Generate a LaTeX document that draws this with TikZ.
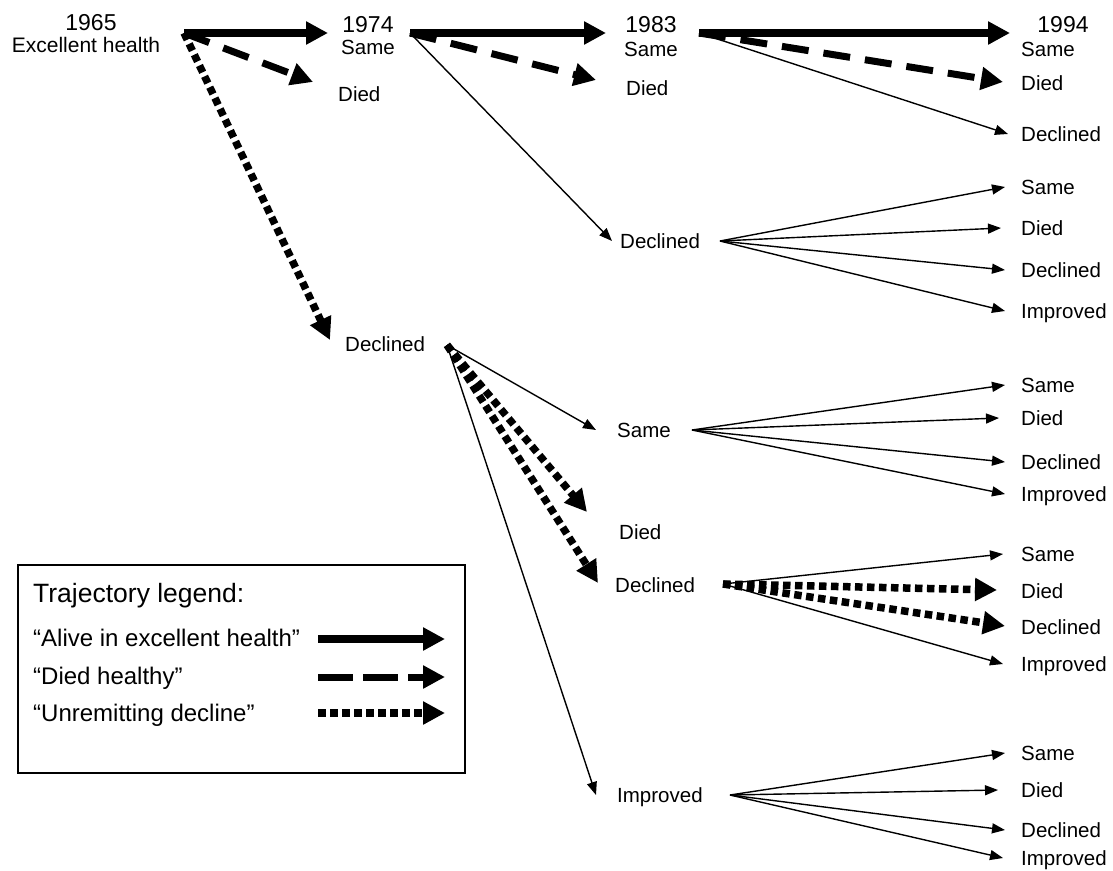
\documentclass[tikz,border=0pt]{standalone}
\usepackage{fontspec}
\setmainfont{Liberation Sans}
\usetikzlibrary{arrows.meta}

\tikzset{
  lab/.style={font=\fontsize{20.5}{24}\selectfont,inner sep=0pt,text height=14.7pt,text depth=0pt,anchor=west},
  yr/.style={font=\fontsize{23}{27}\selectfont,inner sep=0pt,text height=16.5pt,text depth=0pt},
  leg/.style={font=\fontsize{24}{28}\selectfont,inner sep=0pt,anchor=base west},
  alive/.style={line width=8pt,-{Triangle[length=22pt,width=22pt]}},
  diedh/.style={line width=7pt,dash pattern=on 27pt off 15pt,-{Triangle[length=22pt,width=22pt]}},
  decl/.style={line width=7.5pt,dash pattern=on 7.5pt off 4.5pt,-{Triangle[length=22pt,width=22pt]}},
  thinarr/.style={line width=1.4pt,-{Triangle[length=13pt,width=10pt]}}
}

\begin{document}
\begin{tikzpicture}[x=1pt,y=-1pt]
\useasboundingbox (0,0) rectangle (1113,870);

% labels, column by column
\node[yr] (y65) at (91,22) {1965};
\node[font=\fontsize{21}{25}\selectfont,inner sep=0pt,text height=15pt,text depth=0pt] (c1) at (86,45) {Excellent health};

\node[yr] (y74) at (368,24) {1974};
\node[lab] (c2s) at (341,47) {Same};
\node[lab] (c2d) at (338,94) {Died};
\node[lab] (c2c) at (345,344) {Declined};

\node[yr] (y83) at (651,24) {1983};
\node[lab] (c3s) at (624,49) {Same};
\node[lab] (c3d) at (626,88) {Died};
\node[lab] (c3c) at (620,241) {Declined};
\node[lab] (c3s2) at (617,430) {Same};
\node[lab] (c3d2) at (619,532) {Died};
\node[lab] (c3c2) at (615,585) {Declined};
\node[lab] (c3i) at (617,795) {Improved};

\node[yr] (y94) at (1063,24) {1994};
\node[lab] (r1s) at (1021,49) {Same};
\node[lab] (r1d) at (1021,83) {Died};
\node[lab] (r1c) at (1021,134) {Declined};
\node[lab] (r2s) at (1021,187) {Same};
\node[lab] (r2d) at (1021,228) {Died};
\node[lab] (r2c) at (1021,270) {Declined};
\node[lab] (r2i) at (1021,311) {Improved};
\node[lab] (r3s) at (1021,385) {Same};
\node[lab] (r3d) at (1021,418) {Died};
\node[lab] (r3c) at (1021,462) {Declined};
\node[lab] (r3i) at (1021,494) {Improved};
\node[lab] (r4s) at (1021,554) {Same};
\node[lab] (r4d) at (1021,591) {Died};
\node[lab] (r4c) at (1021,627) {Declined};
\node[lab] (r4i) at (1021,664) {Improved};
\node[lab] (r5s) at (1021,753) {Same};
\node[lab] (r5d) at (1021,790) {Died};
\node[lab] (r5c) at (1021,830) {Declined};
\node[lab] (r5i) at (1021,858) {Improved};

% branch points
\coordinate (h65) at (184,33);
\coordinate (h74s) at (410,33);
\coordinate (h74c) at (447,345);
\coordinate (h83s) at (699,33);
\coordinate (h83c) at (720,241);
\coordinate (h83s2) at (692,430);
\coordinate (h83c2) at (723,584);
\coordinate (h83i) at (730,795);

% tips of the thick arrows
\coordinate (a74) at (328,33);
\coordinate (d74) at (313,82);
\coordinate (u74) at (330,340);
\coordinate (a83) at (606,33);
\coordinate (d83) at (596,80);
\coordinate (u83d) at (587,512);
\coordinate (u83c) at (598,583);
\coordinate (a94) at (1010,33);
\coordinate (d94) at (1003,82);
\coordinate (u94d) at (997,590);
\coordinate (u94c) at (1005,626);

% 1965 -> 1974
\draw[alive] (h65) -- (a74);
\draw[diedh] (h65) -- (d74);
\draw[decl] (h65) -- (u74);

% 1974 -> 1983
\draw[alive] (h74s) -- (a83);
\draw[diedh] (h74s) -- (d83);
\draw[thinarr] (h74s) -- ([xshift=-8pt]c3c.west);
\draw[thinarr] (h74c) -- ([xshift=-21pt]c3s2.west);
\draw[decl] (h74c) -- (u83d);
\draw[decl] (h74c) -- (u83c);
\draw[thinarr] (h74c) -- ([xshift=-21pt]c3i.west);

% 1983 -> 1994
\draw[alive] (h83s) -- (a94);
\draw[diedh] (h83s) -- (d94);
\draw[thinarr] (h83s) -- ([xshift=-13pt]r1c.west);

\draw[thinarr] (h83c) -- ([xshift=-16pt]r2s.west);
\draw[thinarr] (h83c) -- ([xshift=-20pt]r2d.west);
\draw[thinarr] (h83c) -- ([xshift=-16pt]r2c.west);
\draw[thinarr] (h83c) -- ([xshift=-16pt]r2i.west);

\draw[thinarr] (h83s2) -- ([xshift=-16pt]r3s.west);
\draw[thinarr] (h83s2) -- ([xshift=-22pt]r3d.west);
\draw[thinarr] (h83s2) -- ([xshift=-16pt]r3c.west);
\draw[thinarr] (h83s2) -- ([xshift=-16pt]r3i.west);

\draw[thinarr] (h83c2) -- ([xshift=-18pt]r4s.west);
\draw[decl] (h83c2) -- (u94d);
\draw[decl] (h83c2) -- (u94c);
\draw[thinarr] (h83c2) -- ([xshift=-18pt]r4i.west);

\draw[thinarr] (h83i) -- ([xshift=-16pt]r5s.west);
\draw[thinarr] (h83i) -- ([xshift=-23pt]r5d.west);
\draw[thinarr] (h83i) -- ([xshift=-16pt]r5c.west);
\draw[thinarr] (h83i) -- ([xshift=-18pt]r5i.west);

% legend
\draw[line width=1.2pt] (18,565) rectangle (465,773);
\node[leg,font=\fontsize{26.5}{31}\selectfont] (lt) at (33,602) {Trajectory legend:};
\node[leg] (l1) at (33,646) {“Alive in excellent health”};
\node[leg] (l2) at (33,684) {“Died healthy”};
\node[leg] (l3) at (33,721) {“Unremitting decline”};
\draw[alive] (318,639) -- (445,639);
\draw[diedh,dash pattern=on 35pt off 10pt] (318,677) -- (445,677);
\draw[decl] (318,713) -- (445,713);
\end{tikzpicture}
\end{document}
